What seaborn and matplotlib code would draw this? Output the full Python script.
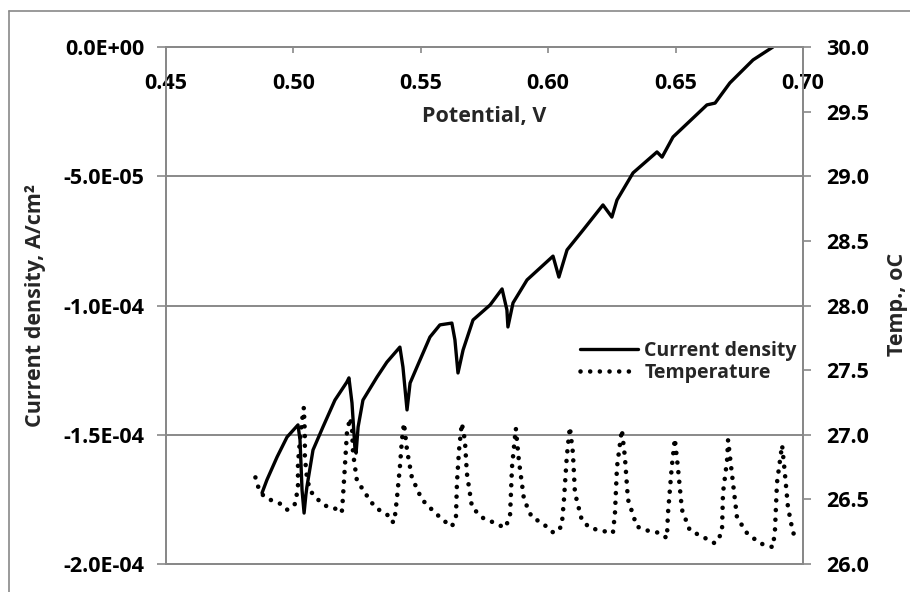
import numpy as np
import pandas as pd
import matplotlib
matplotlib.use("Agg")
import matplotlib.pyplot as plt
from matplotlib.lines import Line2D
from matplotlib.ticker import FuncFormatter
import seaborn as sns

# ---- data ----
cur_potential = [0.4877, 0.4896, 0.4936, 0.4975, 0.5018, 0.5026, 0.5034, 0.5042, 0.5049,
                 0.5053, 0.5077, 0.5116, 0.5163, 0.5210, 0.5218, 0.5230, 0.5242, 0.5246,
                 0.5254, 0.5273, 0.5328, 0.5367, 0.5418, 0.5430, 0.5446, 0.5458, 0.5485,
                 0.5536, 0.5575, 0.5622, 0.5634, 0.5646, 0.5666, 0.5705, 0.5772, 0.5819,
                 0.5838, 0.5842, 0.5862, 0.5917, 0.6019, 0.6042, 0.6074, 0.6137, 0.6215,
                 0.6250, 0.6270, 0.6333, 0.6427, 0.6447, 0.6490, 0.6623, 0.6655, 0.6713,
                 0.6804, 0.6882]
cur_density = [-17.25e-5, -16.75e-5, -15.86e-5, -15.09e-5, -14.62e-5, -15.20e-5, -17.14e-5,
               -18.03e-5, -17.33e-5, -17.02e-5, -15.59e-5, -14.70e-5, -13.66e-5, -12.96e-5,
               -12.80e-5, -13.77e-5, -15.59e-5, -15.71e-5, -14.70e-5, -13.66e-5, -12.77e-5,
               -12.19e-5, -11.61e-5, -12.38e-5, -14.04e-5, -13.00e-5, -12.38e-5, -11.22e-5,
               -10.75e-5, -10.68e-5, -11.33e-5, -12.61e-5, -11.72e-5, -10.56e-5, -9.98e-5,
               -9.36e-5, -10.17e-5, -10.83e-5, -9.90e-5, -9.01e-5, -8.09e-5, -8.90e-5,
               -7.85e-5, -7.08e-5, -6.11e-5, -6.58e-5, -5.92e-5, -4.87e-5, -4.06e-5,
               -4.26e-5, -3.48e-5, -2.24e-5, -2.17e-5, -1.39e-5, -0.50e-5, 0.0]

temp_potential = [0.4851, 0.4866, 0.4886, 0.4906, 0.4929, 0.4957, 0.4976, 0.4996, 0.5008,
                  0.5018, 0.5018, 0.5026, 0.5034, 0.5041, 0.5045, 0.5045, 0.5053, 0.5065,
                  0.5085, 0.5112, 0.5136, 0.5183, 0.5190, 0.5194, 0.5202, 0.5210, 0.5222,
                  0.5230, 0.5234, 0.5249, 0.5281, 0.5320, 0.5359, 0.5387, 0.5391, 0.5398,
                  0.5406, 0.5418, 0.5426, 0.5434, 0.5446, 0.5465, 0.5504, 0.5544, 0.5587,
                  0.5622, 0.5638, 0.5642, 0.5650, 0.5661, 0.5673, 0.5681, 0.5701, 0.5740,
                  0.5787, 0.5830, 0.5850, 0.5858, 0.5873, 0.5885, 0.5905, 0.5936, 0.5975,
                  0.6022, 0.6053, 0.6062, 0.6073, 0.6085, 0.6097, 0.6105, 0.6132, 0.6163,
                  0.6203, 0.6254, 0.6262, 0.6270, 0.6289, 0.6301, 0.6313, 0.6348, 0.6387,
                  0.6438, 0.6466, 0.6470, 0.6485, 0.6497, 0.6509, 0.6525, 0.6556, 0.6607,
                  0.6654, 0.6682, 0.6686, 0.6702, 0.6706, 0.6721, 0.6741, 0.6780, 0.6831,
                  0.6882, 0.6890, 0.6898, 0.6918, 0.6929, 0.6941, 0.6961, 0.6988]
temperature = [26.67, 26.57, 26.52, 26.50, 26.48, 26.46, 26.42, 26.44, 26.47,
               26.60, 26.78, 26.96, 27.11, 27.21, 27.01, 26.83, 26.67, 26.57,
               26.52, 26.47, 26.44, 26.42, 26.40, 26.50, 26.75, 27.01, 27.13,
               27.06, 26.86, 26.65, 26.55, 26.44, 26.39, 26.36, 26.32, 26.36,
               26.50, 26.75, 26.96, 27.09, 26.88, 26.67, 26.50, 26.42, 26.34,
               26.29, 26.36, 26.63, 26.88, 27.09, 26.96, 26.70, 26.44, 26.36,
               26.32, 26.28, 26.36, 26.75, 27.05, 26.80, 26.50, 26.36, 26.32,
               26.24, 26.29, 26.50, 26.83, 27.06, 26.86, 26.55, 26.34, 26.28,
               26.26, 26.24, 26.39, 26.75, 27.04, 26.83, 26.50, 26.29, 26.26,
               26.24, 26.20, 26.39, 26.75, 26.97, 26.75, 26.42, 26.26, 26.21,
               26.16, 26.24, 26.55, 26.80, 26.96, 26.70, 26.36, 26.24, 26.16,
               26.13, 26.26, 26.63, 26.92, 26.70, 26.44, 26.24, 26.19]

x_ticks = [0.45, 0.50, 0.55, 0.60, 0.65, 0.70]
left_ticks = [-2.0e-4, -1.5e-4, -1.0e-4, -5.0e-5, 0.0]
right_ticks = [26.0, 26.5, 27.0, 27.5, 28.0, 28.5, 29.0, 29.5, 30.0]

cur_df = pd.DataFrame({"Potential": cur_potential, "Current": cur_density})
temp_df = pd.DataFrame({"Potential": temp_potential, "Temp": temperature})

# ---- style ----
sns.set_style("white")
plt.rcParams["font.family"] = ["Open Sans", "DejaVu Sans"]
plt.rcParams["font.weight"] = "bold"
GRAY = "#898989"
FS = 15.5
FS_LEG = 14

fig = plt.figure(figsize=(9.1, 5.92), dpi=100)
ax = fig.add_axes([0.1824, 0.0473, 0.7000, 0.8733])
ax2 = ax.twinx()
ax2.set_position([0.1824, 0.0473, 0.7000, 0.8733])

sns.lineplot(data=cur_df, x="Potential", y="Current", ax=ax, sort=False,
             estimator=None, color="black", linewidth=2.4,
             solid_joinstyle="round", solid_capstyle="round", label="Current density",
             legend=False)
sns.lineplot(data=temp_df, x="Potential", y="Temp", ax=ax2, sort=False,
             estimator=None, color="black", linewidth=3.3,
             linestyle=(0, (0.01, 2.1)), dash_capstyle="round", label="Temperature",
             legend=False)

ax.set_xlim(0.45, 0.70)
ax.set_ylim(-2.0e-4, 0.0)
ax2.set_ylim(26.0, 30.0)

ax.set_yticks(left_ticks)
ax.yaxis.grid(True, color=GRAY, linewidth=1.4)
ax.xaxis.grid(False)
ax.set_axisbelow(True)
ax2.grid(False)

ax.yaxis.set_major_formatter(FuncFormatter(lambda v, p: f"{v:.1E}".replace("-0.0", "0.0")))
ax2.set_yticks(right_ticks)
ax2.yaxis.set_major_formatter(FuncFormatter(lambda v, p: f"{v:.1f}"))

ax.set_xticks(x_ticks)
ax.xaxis.set_major_formatter(FuncFormatter(lambda v, p: f"{v:.2f}"))
ax.tick_params(axis="x", top=True, bottom=False, labeltop=True, labelbottom=False,
               direction="in", length=4.5, width=1.2, color=GRAY, pad=-33.5,
               labelsize=FS, labelcolor="black")
ax.tick_params(axis="y", left=True, direction="out", length=6.5, width=1.2,
               color=GRAY, pad=9, labelsize=FS, labelcolor="black")
ax2.tick_params(axis="y", right=True, direction="out", length=5.8, width=1.2,
                color=GRAY, pad=11, labelsize=FS, labelcolor="black")
for t in ax.get_xticklabels() + ax.get_yticklabels() + ax2.get_yticklabels():
    t.set_fontweight("bold")

for a in (ax, ax2):
    for s in a.spines.values():
        s.set_color(GRAY)
        s.set_linewidth(1.4)
        s.set_visible(True)

ax.set_xlabel("Potential, V", fontsize=FS, fontweight="bold")
ax.xaxis.set_label_position("top")
ax.xaxis.set_label_coords(0.5, 0.8665)
ax.xaxis.label.set_va("center")

ax.set_ylabel("Current density, A/cm²", fontsize=FS, fontweight="bold")
ax.yaxis.set_label_coords(-0.2045, 0.50)
ax.yaxis.label.set_va("center")

ax2.set_ylabel("Temp., oC", fontsize=FS, fontweight="bold")
ax2.yaxis.set_label_coords(1.1476, 0.502)
ax2.yaxis.label.set_va("center")

handles = [ax.get_lines()[0], ax2.get_lines()[0]]
leg = fig.legend(handles, ["Current density", "Temperature"],
                 loc="center left", bbox_to_anchor=(580 / 910, 1 - 362 / 592),
                 frameon=False, handlelength=3.0, handletextpad=0.3,
                 borderpad=0, borderaxespad=0, labelspacing=0.12,
                 prop={"weight": "bold", "size": FS_LEG})

fig.add_artist(Line2D([9 / 910, 1.0], [1 - 11 / 592, 1 - 11 / 592],
                      transform=fig.transFigure, color=GRAY, linewidth=1.2))
fig.add_artist(Line2D([9 / 910, 9 / 910], [0.0, 1 - 11 / 592],
                      transform=fig.transFigure, color=GRAY, linewidth=1.2))

fig.savefig("out.png", dpi=100)
